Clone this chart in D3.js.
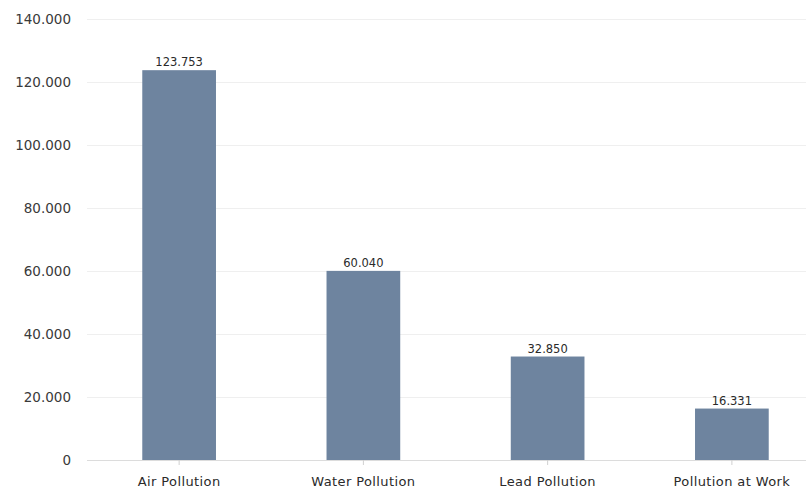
<!DOCTYPE html>
<html>
<head>
<meta charset="utf-8">
<script src="https://cdn.jsdelivr.net/npm/d3@7"></script>
<style>
  html, body { margin: 0; padding: 0; background: #fff; }
  svg { display: block; }
  text { font-family: "DejaVu Sans", Verdana, sans-serif; }
</style>
</head>
<body>
<svg id="chart" width="806" height="489"></svg>
<script>
// Deaths attributed to each pollution type
const categories = ["Air Pollution", "Water Pollution", "Lead Pollution", "Pollution at Work"];
const values = [123753, 60040, 32850, 16331];
const yTicks = [0, 20000, 40000, 60000, 80000, 100000, 120000, 140000];

(function () {
  const svg = d3.select("#chart");
  const W = 806;
  const plotLeft = 87, plotRight = 824, plotTop = 19, plotBottom = 460;

  // Dotted thousands separator, e.g. 123.753
  const fmt = d3.formatLocale({ decimal: ",", thousands: ".", grouping: [3], currency: ["", ""] }).format(",d");

  const x = d3.scaleBand().domain(categories).range([plotLeft, plotRight]).paddingInner(0.6).paddingOuter(0.3);
  const y = d3.scaleLinear().domain([0, 140000]).range([plotBottom, plotTop]);

  // Horizontal grid
  svg.append("g").selectAll("line").data(yTicks).join("line")
    .attr("x1", plotLeft).attr("x2", W)
    .attr("y1", d => y(d) + 0.5).attr("y2", d => y(d) + 0.5)
    .attr("stroke", d => d === 0 ? "#dcdcdc" : "#efefef")
    .attr("stroke-width", 1);

  // Y axis labels
  const yAxis = d3.axisLeft(y).tickValues(yTicks).tickFormat(d => fmt(d)).tickSize(0).tickPadding(0);
  const ya = svg.append("g").attr("transform", "translate(71,0)").call(yAxis);
  ya.select(".domain").remove();
  ya.selectAll("text").attr("fill", "#3a3a3a").attr("font-size", 13.5);

  // X axis
  const xAxis = d3.axisBottom(x).tickSize(5).tickPadding(12);
  const xa = svg.append("g").attr("transform", `translate(0,${plotBottom})`).call(xAxis);
  xa.select(".domain").remove();
  xa.selectAll("line").attr("stroke", "#d0d0d0");
  xa.selectAll("text").attr("fill", "#2a2a2a").attr("font-size", 13)
    .attr("letter-spacing", "0.4px");

  // Bars
  svg.append("g").selectAll("rect").data(values).join("rect")
    .attr("x", (d, i) => x(categories[i]))
    .attr("width", x.bandwidth())
    .attr("y", d => y(d))
    .attr("height", d => y(0) - y(d))
    .attr("fill", "#6e849f");

  // Value labels
  svg.append("g").selectAll("text").data(values).join("text")
    .attr("x", (d, i) => x(categories[i]) + x.bandwidth() / 2)
    .attr("y", d => y(d) - 4)
    .attr("text-anchor", "middle")
    .attr("font-size", 11.5)
    .attr("fill", "#2a2a2a")
    .text(d => fmt(d));
})();
</script>
</body>
</html>
